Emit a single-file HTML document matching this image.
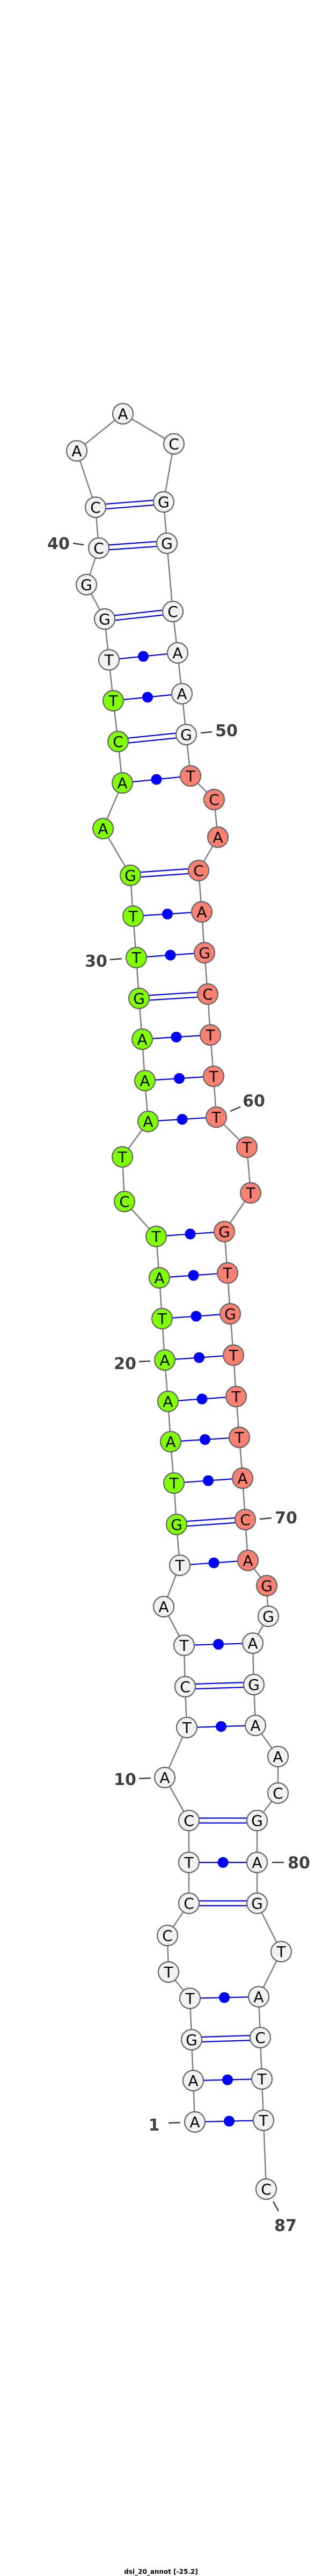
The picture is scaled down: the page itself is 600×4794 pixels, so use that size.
<!DOCTYPE html>
<html><head><meta charset="utf-8"><style>
html,body{margin:0;padding:0;background:#fff;}
svg{display:block;}
.n{stroke:#666;stroke-width:2.2;}
.w{fill:#f2f2f2}.g{fill:#7fff00}.r{fill:#fa8072}
.t{font-family:"DejaVu Sans","Liberation Sans",sans-serif;font-size:28px;text-anchor:middle;fill:#000;}
.l{font-family:"DejaVu Sans","Liberation Sans",sans-serif;font-size:30px;font-weight:bold;text-anchor:middle;fill:#404040;}
.p{stroke:#0000ff;stroke-width:2.2;}
.k{stroke:#404040;stroke-width:2.5;}
</style></head><body>
<svg width="600" height="4794" viewBox="0 0 600 4794" xmlns="http://www.w3.org/2000/svg">
<polyline fill="none" stroke="#808080" stroke-width="2.5" points="363,3949 360,3872 357,3796 354,3719 314,3670 312,3602 352,3542 352,3466 352,3388 307,3308 348,3215 345,3139 343,3062 305,2990 335,2913 329,2837 324,2760 318,2683 313,2608 307,2531 302,2454 297,2378 291,2301 232,2236 228,2153 276,2087 270,2011 265,1934 259,1858 254,1782 248,1705 243,1629 192,1542 228,1457 220,1380 211,1304 203,1228 195,1152 161,1088 184,1020 178,944 143,839 229,770 324,826 305,934 311,1011 322,1138 331,1215 339,1291 347,1367 355,1444 399,1488 406,1558 370,1620 376,1697 381,1773 387,1850 392,1926 398,2003 403,2079 460,2135 467,2220 418,2292 424,2369 429,2445 435,2522 440,2599 446,2675 452,2751 457,2828 462,2904 497,2951 500,3008 471,3058 473,3135 476,3211 518,3269 518,3337 479,3388 479,3466 479,3542 524,3632 482,3716 485,3792 488,3869 491,3946 496,4074"/>
<g class="p">
<line x1="203" y1="1228" x2="331" y2="1215"/><line x1="211" y1="1304" x2="339" y2="1291"/>
<line x1="228" y1="1457" x2="355" y2="1444"/><line x1="248" y1="1705" x2="376" y2="1697"/>
<line x1="254" y1="1782" x2="381" y2="1773"/><line x1="265" y1="1934" x2="392" y2="1926"/>
<line x1="270" y1="2011" x2="398" y2="2003"/><line x1="276" y1="2087" x2="403" y2="2079"/>
<line x1="291" y1="2301" x2="418" y2="2292"/><line x1="297" y1="2378" x2="424" y2="2369"/>
<line x1="302" y1="2454" x2="429" y2="2445"/><line x1="307" y1="2531" x2="435" y2="2522"/>
<line x1="313" y1="2608" x2="440" y2="2599"/><line x1="318" y1="2683" x2="446" y2="2675"/>
<line x1="324" y1="2760" x2="452" y2="2751"/><line x1="335" y1="2913" x2="462" y2="2904"/>
<line x1="343" y1="3062" x2="471" y2="3058"/><line x1="348" y1="3215" x2="476" y2="3211"/>
<line x1="352" y1="3466" x2="479" y2="3466"/><line x1="354" y1="3719" x2="482" y2="3716"/>
<line x1="360" y1="3872" x2="488" y2="3869"/><line x1="363" y1="3949" x2="491" y2="3946"/>
<line x1="178" y1="939.5" x2="305" y2="929.5"/><line x1="178" y1="948.5" x2="305" y2="938.5"/>
<line x1="184" y1="1015.5" x2="311" y2="1006.5"/><line x1="184" y1="1024.5" x2="311" y2="1015.5"/>
<line x1="195" y1="1147.5" x2="322" y2="1133.5"/><line x1="195" y1="1156.5" x2="322" y2="1142.5"/>
<line x1="220" y1="1375.5" x2="347" y2="1362.5"/><line x1="220" y1="1384.5" x2="347" y2="1371.5"/>
<line x1="243" y1="1624.5" x2="370" y2="1615.5"/><line x1="243" y1="1633.5" x2="370" y2="1624.5"/>
<line x1="259" y1="1853.5" x2="387" y2="1845.5"/><line x1="259" y1="1862.5" x2="387" y2="1854.5"/>
<line x1="329" y1="2832.5" x2="457" y2="2823.5"/><line x1="329" y1="2841.5" x2="457" y2="2832.5"/>
<line x1="345" y1="3134.5" x2="473" y2="3130.5"/><line x1="345" y1="3143.5" x2="473" y2="3139.5"/>
<line x1="352" y1="3383.5" x2="479" y2="3383.5"/><line x1="352" y1="3392.5" x2="479" y2="3392.5"/>
<line x1="352" y1="3537.5" x2="479" y2="3537.5"/><line x1="352" y1="3546.5" x2="479" y2="3546.5"/>
<line x1="357" y1="3791.5" x2="485" y2="3787.5"/><line x1="357" y1="3800.5" x2="485" y2="3796.5"/>
</g>
<g fill="#0000ff">
<circle cx="267" cy="1221.5" r="10"/><circle cx="275" cy="1297.5" r="10"/><circle cx="291.5" cy="1450.5" r="10"/>
<circle cx="312" cy="1701" r="10"/><circle cx="317.5" cy="1777.5" r="10"/><circle cx="328.5" cy="1930" r="10"/>
<circle cx="334" cy="2007" r="10"/><circle cx="339.5" cy="2083" r="10"/><circle cx="354.5" cy="2296.5" r="10"/>
<circle cx="360.5" cy="2373.5" r="10"/><circle cx="365.5" cy="2449.5" r="10"/><circle cx="371" cy="2526.5" r="10"/>
<circle cx="376.5" cy="2603.5" r="10"/><circle cx="382" cy="2679" r="10"/><circle cx="388" cy="2755.5" r="10"/>
<circle cx="398.5" cy="2908.5" r="10"/><circle cx="407" cy="3060" r="10"/><circle cx="412" cy="3213" r="10"/>
<circle cx="415.5" cy="3466" r="10"/><circle cx="418" cy="3717.5" r="10"/><circle cx="424" cy="3870.5" r="10"/>
<circle cx="427" cy="3947.5" r="10"/>
</g>
<g class="n">
<circle class="w" cx="363" cy="3949" r="19"/><circle class="w" cx="360" cy="3872" r="19"/><circle class="w" cx="357" cy="3796" r="19"/><circle class="w" cx="354" cy="3719" r="19"/><circle class="w" cx="314" cy="3670" r="19"/><circle class="w" cx="312" cy="3602" r="19"/><circle class="w" cx="352" cy="3542" r="19"/><circle class="w" cx="352" cy="3466" r="19"/><circle class="w" cx="352" cy="3388" r="19"/><circle class="w" cx="307" cy="3308" r="19"/>
<circle class="w" cx="348" cy="3215" r="19"/><circle class="w" cx="345" cy="3139" r="19"/><circle class="w" cx="343" cy="3062" r="19"/><circle class="w" cx="305" cy="2990" r="19"/><circle class="w" cx="335" cy="2913" r="19"/>
<circle class="g" cx="329" cy="2837" r="19"/><circle class="g" cx="324" cy="2760" r="19"/><circle class="g" cx="318" cy="2683" r="19"/><circle class="g" cx="313" cy="2608" r="19"/><circle class="g" cx="307" cy="2531" r="19"/><circle class="g" cx="302" cy="2454" r="19"/><circle class="g" cx="297" cy="2378" r="19"/><circle class="g" cx="291" cy="2301" r="19"/><circle class="g" cx="232" cy="2236" r="19"/><circle class="g" cx="228" cy="2153" r="19"/><circle class="g" cx="276" cy="2087" r="19"/><circle class="g" cx="270" cy="2011" r="19"/><circle class="g" cx="265" cy="1934" r="19"/><circle class="g" cx="259" cy="1858" r="19"/><circle class="g" cx="254" cy="1782" r="19"/><circle class="g" cx="248" cy="1705" r="19"/><circle class="g" cx="243" cy="1629" r="19"/><circle class="g" cx="192" cy="1542" r="19"/><circle class="g" cx="228" cy="1457" r="19"/><circle class="g" cx="220" cy="1380" r="19"/><circle class="g" cx="211" cy="1304" r="19"/>
<circle class="w" cx="203" cy="1228" r="19"/><circle class="w" cx="195" cy="1152" r="19"/><circle class="w" cx="161" cy="1088" r="19"/><circle class="w" cx="184" cy="1020" r="19"/><circle class="w" cx="178" cy="944" r="19"/><circle class="w" cx="143" cy="839" r="19"/><circle class="w" cx="229" cy="770" r="19"/><circle class="w" cx="324" cy="826" r="19"/><circle class="w" cx="305" cy="934" r="19"/><circle class="w" cx="311" cy="1011" r="19"/><circle class="w" cx="322" cy="1138" r="19"/><circle class="w" cx="331" cy="1215" r="19"/><circle class="w" cx="339" cy="1291" r="19"/><circle class="w" cx="347" cy="1367" r="19"/>
<circle class="r" cx="355" cy="1444" r="19"/><circle class="r" cx="399" cy="1488" r="19"/><circle class="r" cx="406" cy="1558" r="19"/><circle class="r" cx="370" cy="1620" r="19"/><circle class="r" cx="376" cy="1697" r="19"/><circle class="r" cx="381" cy="1773" r="19"/><circle class="r" cx="387" cy="1850" r="19"/><circle class="r" cx="392" cy="1926" r="19"/><circle class="r" cx="398" cy="2003" r="19"/><circle class="r" cx="403" cy="2079" r="19"/><circle class="r" cx="460" cy="2135" r="19"/><circle class="r" cx="467" cy="2220" r="19"/><circle class="r" cx="418" cy="2292" r="19"/><circle class="r" cx="424" cy="2369" r="19"/><circle class="r" cx="429" cy="2445" r="19"/><circle class="r" cx="435" cy="2522" r="19"/><circle class="r" cx="440" cy="2599" r="19"/><circle class="r" cx="446" cy="2675" r="19"/><circle class="r" cx="452" cy="2751" r="19"/><circle class="r" cx="457" cy="2828" r="19"/><circle class="r" cx="462" cy="2904" r="19"/><circle class="r" cx="497" cy="2951" r="19"/>
<circle class="w" cx="500" cy="3008" r="19"/><circle class="w" cx="471" cy="3058" r="19"/><circle class="w" cx="473" cy="3135" r="19"/><circle class="w" cx="476" cy="3211" r="19"/><circle class="w" cx="518" cy="3269" r="19"/><circle class="w" cx="518" cy="3337" r="19"/><circle class="w" cx="479" cy="3388" r="19"/><circle class="w" cx="479" cy="3466" r="19"/><circle class="w" cx="479" cy="3542" r="19"/><circle class="w" cx="524" cy="3632" r="19"/><circle class="w" cx="482" cy="3716" r="19"/><circle class="w" cx="485" cy="3792" r="19"/><circle class="w" cx="488" cy="3869" r="19"/><circle class="w" cx="491" cy="3946" r="19"/><circle class="w" cx="496" cy="4074" r="19"/>
</g>
<g class="t">
<text x="363" y="3959">A</text><text x="360" y="3882">A</text><text x="357" y="3806">G</text><text x="354" y="3729">T</text><text x="314" y="3680">T</text><text x="312" y="3612">C</text><text x="352" y="3552">C</text><text x="352" y="3476">T</text><text x="352" y="3398">C</text><text x="307" y="3318">A</text>
<text x="348" y="3225">T</text><text x="345" y="3149">C</text><text x="343" y="3072">T</text><text x="305" y="3000">A</text><text x="335" y="2923">T</text><text x="329" y="2847">G</text><text x="324" y="2770">T</text><text x="318" y="2693">A</text><text x="313" y="2618">A</text><text x="307" y="2541">A</text>
<text x="302" y="2464">T</text><text x="297" y="2388">A</text><text x="291" y="2311">T</text><text x="232" y="2246">C</text><text x="228" y="2163">T</text><text x="276" y="2097">A</text><text x="270" y="2021">A</text><text x="265" y="1944">A</text><text x="259" y="1868">G</text><text x="254" y="1792">T</text>
<text x="248" y="1715">T</text><text x="243" y="1639">G</text><text x="192" y="1552">A</text><text x="228" y="1467">A</text><text x="220" y="1390">C</text><text x="211" y="1314">T</text><text x="203" y="1238">T</text><text x="195" y="1162">G</text><text x="161" y="1098">G</text><text x="184" y="1030">C</text>
<text x="178" y="954">C</text><text x="143" y="849">A</text><text x="229" y="780">A</text><text x="324" y="836">C</text><text x="305" y="944">G</text><text x="311" y="1021">G</text><text x="322" y="1148">C</text><text x="331" y="1225">A</text><text x="339" y="1301">A</text><text x="347" y="1377">G</text>
<text x="355" y="1454">T</text><text x="399" y="1498">C</text><text x="406" y="1568">A</text><text x="370" y="1630">C</text><text x="376" y="1707">A</text><text x="381" y="1783">G</text><text x="387" y="1860">C</text><text x="392" y="1936">T</text><text x="398" y="2013">T</text><text x="403" y="2089">T</text>
<text x="460" y="2145">T</text><text x="467" y="2230">T</text><text x="418" y="2302">G</text><text x="424" y="2379">T</text><text x="429" y="2455">G</text><text x="435" y="2532">T</text><text x="440" y="2609">T</text><text x="446" y="2685">T</text><text x="452" y="2761">A</text><text x="457" y="2838">C</text>
<text x="462" y="2914">A</text><text x="497" y="2961">G</text><text x="500" y="3018">G</text><text x="471" y="3068">A</text><text x="473" y="3145">G</text><text x="476" y="3221">A</text><text x="518" y="3279">A</text><text x="518" y="3347">C</text><text x="479" y="3398">G</text><text x="479" y="3476">A</text>
<text x="479" y="3552">G</text><text x="524" y="3642">T</text><text x="482" y="3726">A</text><text x="485" y="3802">C</text><text x="488" y="3879">T</text><text x="491" y="3956">T</text><text x="496" y="4084">C</text>
</g>
<g class="k">
<line x1="136" y1="1011" x2="156" y2="1014"/><line x1="374" y1="1364" x2="395" y2="1362"/>
<line x1="205" y1="1786" x2="227" y2="1784"/><line x1="429" y1="2068" x2="448" y2="2060"/>
<line x1="259" y1="2534" x2="280" y2="2533"/><line x1="484" y1="2827" x2="506" y2="2825"/>
<line x1="259" y1="3310" x2="281" y2="3309"/><line x1="507" y1="3466" x2="529" y2="3466"/>
<line x1="314" y1="3951" x2="336" y2="3950"/><line x1="509" y1="4097" x2="519" y2="4115"/>
</g>
<g class="l">
<text x="109" y="1022">40</text><text x="422" y="1370">50</text><text x="179" y="1799">30</text>
<text x="473" y="2059">60</text><text x="233" y="2548">20</text><text x="533" y="2835">70</text>
<text x="233" y="3322">10</text><text x="557" y="3477">80</text><text x="287" y="3965">1</text>
<text x="532" y="4152">87</text>
</g>
<text x="300" y="4790" font-family="DejaVu Sans, Liberation Sans, sans-serif" font-size="12" font-weight="bold" text-anchor="middle" fill="#000">dsi_20_annot [-25.2]</text>
</svg>
</body></html>
